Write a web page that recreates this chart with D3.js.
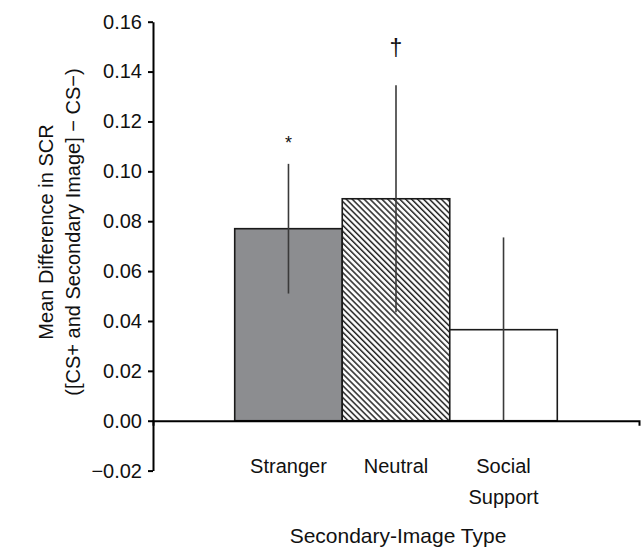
<!DOCTYPE html>
<html>
<head>
<meta charset="utf-8">
<script src="https://cdn.jsdelivr.net/npm/d3@7"></script>
<style>
  body { margin: 0; background: #fff; }
  svg { display: block; font-family: "Liberation Sans", Arial, sans-serif; }
</style>
</head>
<body>
<svg id="chart" width="642" height="548"></svg>
<script>
"use strict";

// === Data ===
let categories = ["Stranger", "Neutral", "Social Support"];
let labelLines = [["Stranger"], ["Neutral"], ["Social", "Support"]];
let means = [0.077, 0.089, 0.0365];
let errors = [0.026, 0.0455, 0.037];
let marks = ["*", "\u2020", ""];
let yTicks = [-0.02, 0, 0.02, 0.04, 0.06, 0.08, 0.10, 0.12, 0.14, 0.16];

let svg = d3.select("#chart");

// hatch for the neutral bar
let defs = svg.append("defs");
let pat = defs.append("pattern")
  .attr("id", "hatch")
  .attr("patternUnits", "userSpaceOnUse")
  .attr("width", 4.2)
  .attr("height", 4.2)
  .attr("patternTransform", "rotate(45)");
pat.append("rect").attr("width", 4.2).attr("height", 4.2).attr("fill", "#fff");
pat.append("line")
  .attr("x1", 0).attr("y1", 1).attr("x2", 4.2).attr("y2", 1)
  .attr("stroke", "#222").attr("stroke-width", 1.5);

let fills = ["#8c8d90", "url(#hatch)", "#fff"];

// scales
let y = d3.scaleLinear().domain([-0.02, 0.16]).range([470.6, 21.7]);
let x = d3.scaleBand().domain(categories).range([153, 639])
  .paddingInner(0).paddingOuter(0.76);

// bars
svg.append("g").selectAll("rect")
  .data(categories)
  .join("rect")
  .attr("x", d => x(d))
  .attr("width", x.bandwidth())
  .attr("y", (d, i) => y(means[i]))
  .attr("height", (d, i) => y(0) - y(means[i]))
  .attr("fill", (d, i) => fills[i])
  .attr("stroke", "#1a1a1a")
  .attr("stroke-width", 1.6);

// error bars (no caps)
svg.append("g").selectAll("line")
  .data(categories)
  .join("line")
  .attr("x1", d => x(d) + x.bandwidth() / 2)
  .attr("x2", d => x(d) + x.bandwidth() / 2)
  .attr("y1", (d, i) => y(means[i] + errors[i]))
  .attr("y2", (d, i) => y(means[i] - errors[i]))
  .attr("stroke", "#3a3a3a")
  .attr("stroke-width", 1.6);

// significance marks
svg.append("g").selectAll("text")
  .data(categories)
  .join("text")
  .attr("x", d => x(d) + x.bandwidth() / 2)
  .attr("y", (d, i) => y(means[i] + errors[i]) - (i === 0 ? 15 : 29))
  .attr("text-anchor", "middle")
  .attr("font-size", (d, i) => i === 0 ? 18 : 23)
  .attr("fill", "#111")
  .text((d, i) => marks[i]);

// y axis
let yAxis = svg.append("g")
  .attr("transform", "translate(153,0)")
  .call(d3.axisLeft(y).tickValues(yTicks).tickSize(5).tickSizeOuter(0)
    .tickPadding(6).tickFormat(d3.format(".2f")));
yAxis.selectAll("path, line").attr("stroke", "#000").attr("stroke-width", 2);
yAxis.selectAll("text")
  .attr("font-family", "'Liberation Sans', Arial, sans-serif")
  .attr("font-size", 20).attr("fill", "#111");

// x axis: line at zero with end tick on the right
let xAxis = svg.append("g")
  .attr("transform", "translate(0," + y(0) + ")")
  .call(d3.axisBottom(x).tickSize(0).tickSizeOuter(5).tickFormat(""));
xAxis.selectAll("path").attr("stroke", "#000").attr("stroke-width", 2);

// category labels
let lab = svg.append("g").selectAll("text")
  .data(categories)
  .join("text")
  .attr("x", d => x(d) + x.bandwidth() / 2)
  .attr("y", 473)
  .attr("text-anchor", "middle")
  .attr("font-size", 20)
  .attr("fill", "#111");
lab.selectAll("tspan")
  .data((d, i) => labelLines[i])
  .join("tspan")
  .attr("x", function() { return this.parentNode.getAttribute("x"); })
  .attr("dy", (d, j) => j === 0 ? 0 : 31)
  .text(d => d);

// axis titles
svg.append("text")
  .attr("x", 398)
  .attr("y", 543)
  .attr("text-anchor", "middle")
  .attr("font-size", 21)
  .attr("fill", "#111")
  .text("Secondary-Image Type");

let yTitle = svg.append("text")
  .attr("transform", "translate(0,232) rotate(-90)")
  .attr("text-anchor", "middle")
  .attr("font-size", 20)
  .attr("fill", "#111");
yTitle.append("tspan").attr("x", 0).attr("y", 53).text("Mean Difference in SCR");
yTitle.append("tspan").attr("x", 0).attr("y", 80).text("([CS+ and Secondary Image] \u2212 CS\u2212)");
</script>
</body>
</html>
